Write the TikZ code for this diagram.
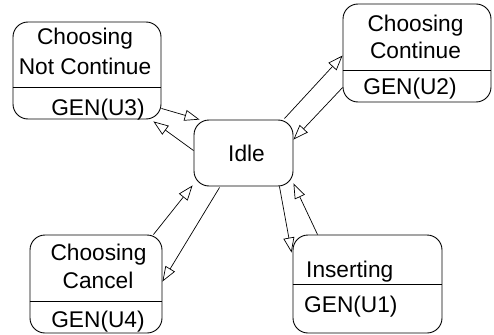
\documentclass[tikz,border=0pt]{standalone}
\usepackage{fontspec}
\setmainfont{Liberation Sans}
\usetikzlibrary{arrows.meta,calc}
\begin{document}
\begin{tikzpicture}[x=1pt,y=-1pt,
  state/.style={draw,line width=0.9pt,rounded corners=15pt,inner sep=0pt},
  lbl/.style={anchor=base,inner sep=0pt,font=\fontsize{22.7}{27}\selectfont},
  lbll/.style={lbl,anchor=base west},
  divider/.style={line width=0.9pt},
  trans/.style={line width=0.7pt,-{Triangle[open,length=15pt,width=11pt]}}]
\useasboundingbox (0,0) rectangle (494,334);

% states
\node[state,minimum width=148pt,minimum height=97pt] (cnc) at (87,70.5) {};
\node[state,minimum width=148pt,minimum height=98pt] (cc) at (417,53) {};
\node[state,minimum width=99pt,minimum height=66pt] (idle) at (243.5,153) {};
\node[state,minimum width=132pt,minimum height=98pt] (cancel) at (96,284) {};
\node[state,minimum width=149pt,minimum height=98pt] (ins) at (367.5,284) {};

% compartment lines
\draw[divider] ([shift={(0,66)}]cnc.north west) -- ([shift={(0,66)}]cnc.north east);
\draw[divider] ([shift={(0,67)}]cc.north west) -- ([shift={(0,67)}]cc.north east);
\draw[divider] ([shift={(0,67)}]cancel.north west) -- ([shift={(0,67)}]cancel.north east);
\draw[divider] ([shift={(0,50)}]ins.north west) -- ([shift={(0,50)}]ins.north east);

% labels
\node[lbl] (cncA) at (85,45) {Choosing};
\node[lbl] (cncB) at (85,75) {Not Continue};
\node[lbl] (cncC) at (98,115) {GEN(U3)};
\node[lbl] (ccA) at (415.5,32) {Choosing};
\node[lbl] (ccB) at (415.5,59) {Continue};
\node[lbl] (ccC) at (410,95) {GEN(U2)};
\node[lbl] (idleA) at (246.5,161) {Idle};
\node[lbl] (canA) at (98.5,260) {Choosing};
\node[lbl] (canB) at (98,288) {Cancel};
\node[lbl] (canC) at (98,327) {GEN(U4)};
\node[lbll] (insA) at (306,277) {Inserting};
\node[lbll] (insB) at (304,312) {GEN(U1)};

% transitions
\draw[trans] ([shift={(0,-11)}]cnc.south east) -- ([shift={(6,0)}]idle.north west);
\draw[trans] ([shift={(0,31)}]idle.north west) -- ([shift={(-8,2)}]cnc.south east);
\draw[trans] ([shift={(-9,-1)}]idle.north east) -- ([shift={(0,52)}]cc.north west);
\draw[trans] ([shift={(0,84)}]cc.north west) -- ([shift={(0,20)}]idle.north east);
\draw[trans] ([shift={(-14,0)}]idle.south east) -- ([shift={(-1,18)}]ins.north west);
\draw[trans] ([shift={(25,0)}]ins.north west) -- ([shift={(0,-3)}]idle.south east);
\draw[trans] ([shift={(-9,0)}]cancel.north east) -- ([shift={(-1,-1)}]idle.south west);
\draw[trans] ([shift={(26,1)}]idle.south west) -- ([shift={(0,47)}]cancel.north east);
\end{tikzpicture}
\end{document}
